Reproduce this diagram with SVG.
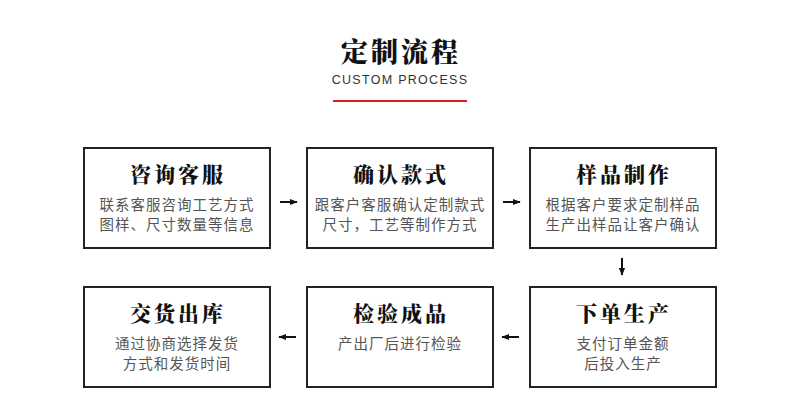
<svg xmlns="http://www.w3.org/2000/svg" width="800" height="415" viewBox="0 0 800 415">
<defs>
<style>
.box{fill:#fff;stroke:#222;stroke-width:2}
.t{font-family:"Noto Serif CJK SC","Noto Sans CJK SC",serif;font-weight:900;font-size:21px;fill:#111;text-anchor:middle;letter-spacing:3px}
.d{font-family:"Noto Sans CJK SC",sans-serif;font-size:14.5px;fill:#555;text-anchor:middle;letter-spacing:1px}
.c{stroke:#111;stroke-width:2;fill:none}
</style>
<marker id="ah" viewBox="0 0 10 10" refX="9" refY="5" markerWidth="4" markerHeight="4" orient="auto" markerUnits="strokeWidth">
<path d="M0,1 L10,5 L0,9 z" fill="#111"/>
</marker>
</defs>
<rect width="800" height="415" fill="#fff"/>
<g id="header">
<text x="401" y="62" font-family="Noto Serif CJK SC,Noto Sans CJK SC,serif" font-weight="900" font-size="27" fill="#111" text-anchor="middle" letter-spacing="3">定制流程</text>
<text x="400" y="84" font-family="Liberation Sans,Arial,sans-serif" font-size="12.5" fill="#333" text-anchor="middle" letter-spacing="1.3">CUSTOM PROCESS</text>
<rect x="333" y="100" width="134" height="2" fill="#d81e1e"/>
</g>
<g id="n1">
<rect class="box" x="84" y="148" width="186" height="100"/>
<text class="t" x="178" y="182">咨询客服</text>
<text class="d" x="177" y="210">联系客服咨询工艺方式</text>
<text class="d" x="177" y="230">图样、尺寸数量等信息</text>
</g>
<g id="n2">
<rect class="box" x="307" y="148" width="186" height="100"/>
<text class="t" x="401" y="182">确认款式</text>
<text class="d" x="400" y="210">跟客户客服确认定制款式</text>
<text class="d" x="400" y="230">尺寸，工艺等制作方式</text>
</g>
<g id="n3">
<rect class="box" x="530" y="148" width="186" height="100"/>
<text class="t" x="624" y="182">样品制作</text>
<text class="d" x="623" y="210">根据客户要求定制样品</text>
<text class="d" x="623" y="230">生产出样品让客户确认</text>
</g>
<g id="n4">
<rect class="box" x="530" y="287" width="186" height="100"/>
<text class="t" x="624" y="321">下单生产</text>
<text class="d" x="623" y="349">支付订单金额</text>
<text class="d" x="623" y="369">后投入生产</text>
</g>
<g id="n5">
<rect class="box" x="307" y="287" width="186" height="100"/>
<text class="t" x="401" y="321">检验成品</text>
<text class="d" x="400" y="349">产出厂后进行检验</text>
</g>
<g id="n6">
<rect class="box" x="84" y="287" width="186" height="100"/>
<text class="t" x="178" y="321">交货出库</text>
<text class="d" x="177" y="349">通过协商选择发货</text>
<text class="d" x="177" y="369">方式和发货时间</text>
</g>
<g id="connectors">
<line class="c" x1="280" y1="202" x2="297" y2="202" marker-end="url(#ah)"/>
<line class="c" x1="503" y1="202" x2="520" y2="202" marker-end="url(#ah)"/>
<line class="c" x1="622" y1="258" x2="622" y2="275" marker-end="url(#ah)"/>
<line class="c" x1="519" y1="337" x2="502" y2="337" marker-end="url(#ah)"/>
<line class="c" x1="296" y1="337" x2="279" y2="337" marker-end="url(#ah)"/>
</g>
</svg>
